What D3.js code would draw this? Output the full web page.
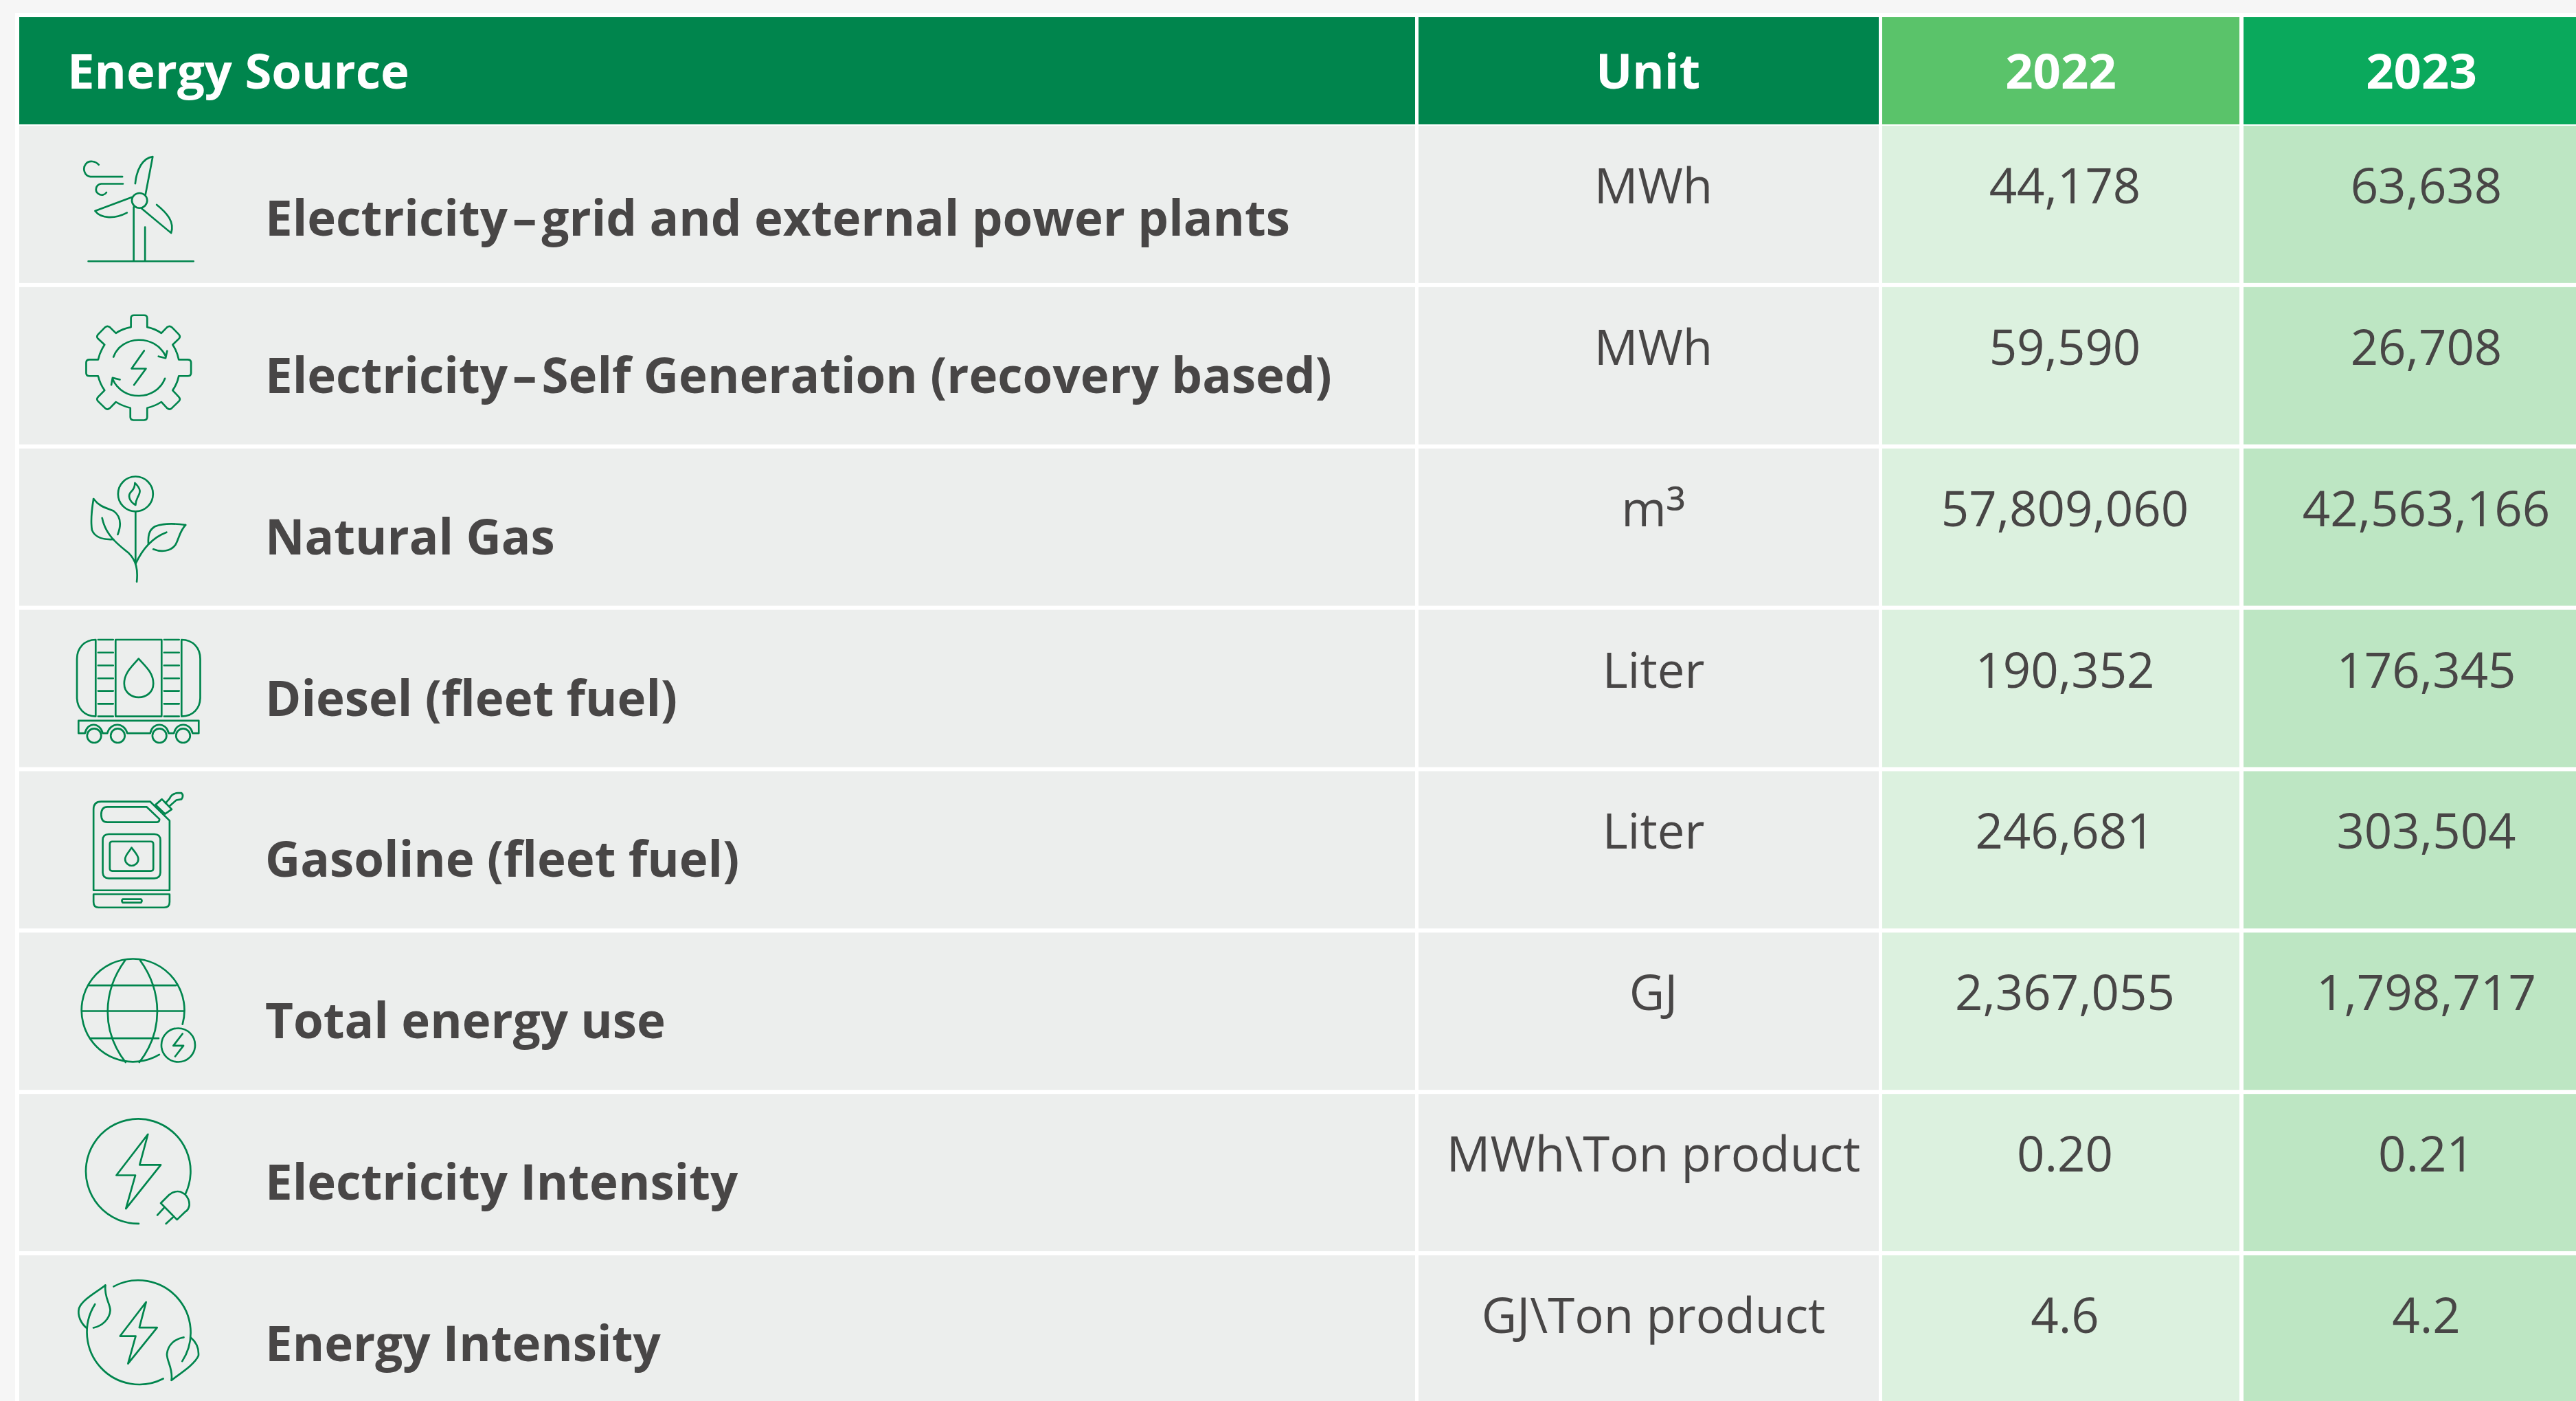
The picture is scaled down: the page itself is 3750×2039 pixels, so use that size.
<!DOCTYPE html>
<html>
<head>
<meta charset="utf-8">
<script src="https://cdnjs.cloudflare.com/ajax/libs/d3/7.8.5/d3.min.js"></script>
<style>
  html, body { margin: 0; padding: 0; background: #f6f6f6; overflow: hidden; }
  text { font-family: "Open Sans", sans-serif; }
  .icon path, .icon circle, .icon rect { fill: none; stroke: #00854d; stroke-linecap: round; stroke-linejoin: round; }
</style>
</head>
<body>
<div id="chart"></div>
<script>
var headers = ["Energy Source", "Unit", "2022", "2023"];
var sources = [
    "Electricity\u200A\u2013\u200Agrid and external power plants",
    "Electricity\u200A\u2013\u200ASelf Generation (recovery based)",
    "Natural Gas",
    "Diesel (fleet fuel)",
    "Gasoline (fleet fuel)",
    "Total energy use",
    "Electricity Intensity",
    "Energy Intensity"
];
var units = ["MWh", "MWh", "m\u00b3", "Liter", "Liter", "GJ", "MWh\\Ton product", "GJ\\Ton product"];
var values2022 = ["44,178", "59,590", "57,809,060", "190,352", "246,681", "2,367,055", "0.20", "4.6"];
var values2023 = ["63,638", "26,708", "42,563,166", "176,345", "303,504", "1,798,717", "0.21", "4.2"];

var width = 3750, height = 2039;
var rowStep = 234.86, rowGap = 6;

var svg = d3.select("#chart").append("svg")
    .attr("width", width)
    .attr("height", height)
    .style("display", "block");

// white frame behind the table
svg.append("rect").attr("x", 22).attr("y", 19).attr("width", width - 22).attr("height", height - 19).attr("fill", "#fff");

// columns are not even, so ordinal scales for edges
var colLeft = d3.scaleOrdinal().domain(headers).range([28, 2065, 2740, 3266]);
var colRight = d3.scaleOrdinal().domain(headers).range([2060, 2735, 3260, 3750]);
var headFill = d3.scaleOrdinal().domain(headers).range(["#00854d", "#00854d", "#5ac36a", "#0aa95c"]);
var bodyFill = d3.scaleOrdinal().domain(headers).range(["#eceeed", "#eceeed", "#dcf1df", "#bde6c3"]);
var headX = d3.scaleOrdinal().domain(headers).range([98, 2399, 3000, 3525]);
var cellX = d3.scaleOrdinal().domain(headers).range([386, 2407, 3006, 3532]);

var y = d3.scaleBand()
    .domain(sources)
    .range([183, 183 + rowStep * sources.length - rowGap])
    .paddingInner(rowGap / rowStep)
    .paddingOuter(0);

// header
svg.selectAll(".head")
    .data(headers)
    .enter().append("rect")
    .attr("class", "head")
    .attr("x", function (d) { return colLeft(d); })
    .attr("y", 25)
    .attr("width", function (d) { return colRight(d) - colLeft(d); })
    .attr("height", 156)
    .attr("fill", function (d) { return headFill(d); });

svg.selectAll(".headText")
    .data(headers)
    .enter().append("text")
    .attr("class", "headText")
    .attr("x", function (d) { return headX(d); })
    .attr("y", 129)
    .attr("text-anchor", function (d, i) { return i == 0 ? "start" : "middle"; })
    .attr("font-size", 70.7)
    .attr("font-weight", 700)
    .attr("fill", "#fff")
    .text(function (d) { return d; });

// body cells
sources.forEach(function (s, i) {
    var g = svg.append("g");
    g.selectAll("rect")
        .data(headers)
        .enter().append("rect")
        .attr("x", function (d) { return colLeft(d); })
        .attr("y", y(s))
        .attr("width", function (d) { return colRight(d) - colLeft(d); })
        .attr("height", y.bandwidth())
        .attr("fill", function (d) { return bodyFill(d); });

    g.append("text")
        .attr("x", cellX(headers[0]))
        .attr("y", y(s) + (i == 0 ? 160 : 154))
        .attr("font-size", 70.8)
        .attr("font-weight", 700)
        .attr("fill", "#484646")
        .text(s);

    var row = [units[i], values2022[i], values2023[i]];
    g.selectAll(".val")
        .data(row)
        .enter().append("text")
        .attr("class", "val")
        .attr("x", function (d, j) { return cellX(headers[j + 1]); })
        .attr("y", y(s) + 113)
        .attr("text-anchor", "middle")
        .attr("font-size", 70.8)
        .attr("fill", "#484646")
        .each(function (d) {
            // the cube sign sits larger and lower in the reference
            var t = d3.select(this), k = d.indexOf("\u00b3");
            if (k < 0) { t.text(d); return; }
            t.append("tspan").text(d.slice(0, k));
            t.append("tspan").attr("font-size", 80).attr("dy", 10).text("\u00b3");
        });
});

// line icons, traced in zoom crop coordinates
var rungs = [649, 691, 733, 774, 816];
var icons = [
    { y0: 0, sx: 2.24, sy: 2.306, paths: [
        "M322 553C312 540 290 537 280 550C268 565 275 590 295 593L399 593",
        "M401 617L330 617C312 620 308 640 320 650C330 658 342 654 347 646",
        "M474 655L498 526C465 530 445 570 441 616",
        "M430 662L310 708C330 735 375 735 414 714",
        "M462 700L558 782C570 745 545 715 511 687",
        "M436 695L436 876M473 762L473 876M288 877L631 877"
    ], circles: [[455, 673, 25]] },
    { y0: 0, sx: 2.24, sy: 2.306, paths: [
        "M427 1098L427 1068Q427 1058 437 1058L470 1058Q480 1058 480 1068L480 1098Q505 1103 526 1118L545 1098Q553 1092 560 1098L583 1122Q590 1130 583 1137L563 1157Q578 1180 583 1207L612 1207Q623 1207 623 1217L623 1252Q623 1262 612 1262L583 1262Q578 1288 563 1310L583 1332Q590 1340 583 1347L560 1370Q553 1377 545 1370L526 1349Q505 1363 480 1369L480 1400Q480 1410 470 1410L435 1410Q425 1410 425 1400L425 1369Q400 1363 378 1349L358 1370Q350 1377 343 1370L320 1347Q313 1340 320 1332L341 1310Q326 1288 320 1262L292 1262Q281 1262 281 1252L281 1217Q281 1207 292 1207L320 1207Q326 1180 341 1157L320 1137Q313 1130 320 1122L343 1098Q350 1092 358 1098L378 1118Q400 1103 427 1098Z",
        "M370 1198C395 1125 505 1120 540 1195M545 1178L540 1202L517 1196",
        "M538 1270C510 1345 400 1350 367 1272M363 1292L367 1268L391 1274",
        "M470 1177L429 1237L476 1237L437 1292"
    ], circles: [] },
    { y0: 660, sx: 2.24, sy: 2.24, paths: [
        "M440 96C465 120 455 130 448 145C443 155 442 162 442 168C420 155 415 135 430 122C438 114 440 105 440 96Z",
        "M442 190L442 360",
        "M305 148C325 175 350 178 370 187C395 205 395 235 384 264",
        "M305 148C298 190 295 220 300 250C310 275 340 282 370 280",
        "M333 210C345 270 390 300 420 325C445 350 450 380 446 418",
        "M605 233C570 228 530 228 505 238C485 250 482 270 484 295",
        "M605 233C585 255 585 275 572 298C555 320 525 322 500 312",
        "M543 257C495 275 465 310 442 360"
    ], circles: [[442, 132, 57]] },
    { y0: 660, sx: 2.24, sy: 2.24, paths: [
        "M312 607C275 607 251 635 251 670L251 795C251 830 275 857 312 857Z",
        "M592 607C630 607 653 635 653 670L653 795C653 830 630 857 592 857Z",
        "M377 607L527 607L527 857L377 857Z",
        "M320 607L369 607M320 857L369 857M535 607L584 607M535 857L584 857",
        rungs.map(function (r) { return "M320 " + r + "L369 " + r + "M535 " + r + "L584 " + r; }).join(""),
        "M452 669C430 695 405 715 405 750C405 780 430 795 452 795C475 795 500 780 500 750C500 715 475 695 452 669Z",
        "M256 871L648 871L648 912L628 912C620 875 575 875 567 912L550 912C542 875 497 875 490 912L415 912C405 875 360 875 350 912L335 912C325 875 285 875 277 912L256 912Z"
    ], circles: [[307, 920, 23], [384, 920, 23], [520, 920, 23], [597, 920, 23]] },
    { y0: 660, sx: 2.24, sy: 2.24, paths: [
        "M490 1135L330 1135Q305 1135 305 1160L305 1424L553 1424L553 1197Z",
        "M305 1437L553 1437L553 1462Q553 1480 535 1480L322 1480Q305 1480 305 1462Z",
        "M400 1453L460 1453Q465 1458 460 1464L400 1464Q395 1458 400 1453Z",
        "M350 1152L478 1152L520 1192Q520 1202 510 1202L350 1202Q330 1202 330 1177Q330 1152 350 1152Z",
        "M355 1241L503 1241Q523 1241 523 1261L523 1365Q523 1385 503 1385L355 1385Q335 1385 335 1365L335 1261Q335 1241 355 1241Z",
        "M366 1265L492 1265Q500 1265 500 1273L500 1353Q500 1361 492 1361L366 1361Q358 1361 358 1353L358 1273Q358 1265 366 1265Z",
        "M429 1285C420 1300 408 1310 408 1322C408 1335 420 1344 429 1344C440 1344 451 1335 451 1322C451 1310 440 1300 429 1285Z",
        "M507 1145L528 1127L560 1160L538 1175Z",
        "M540 1140L553 1125Q560 1108 580 1107L592 1107Q600 1115 592 1127L575 1130L552 1150"
    ], circles: [] },
    { y0: 1340, sx: 2.243, sy: 2.243, paths: [
        "M596 338A168 168 0 1 0 520 437",
        "M408 130C335 230 330 360 410 462M458 130C530 230 535 360 455 462",
        "M292 211L575 211M268 295L600 295M296 384L518 384",
        "M596 369L566 408L599 408L572 443"
    ], circles: [[582, 406, 55]] },
    { y0: 1340, sx: 2.243, sy: 2.243, paths: [
        "M605 893A171 171 0 1 0 453 989",
        "M483 697L380 831L442 831L411 940L525 797L456 797Z",
        "M604 893Q620 910 618 930Q615 945 605 950L578 976L525 922L552 895Q570 880 590 885Z",
        "M535 938L514 961M565 968L542 989"
    ], circles: [] },
    { y0: 1340, sx: 2.243, sy: 2.243, paths: [
        "M371 1194A171 171 0 0 1 595 1438",
        "M533 1495A171 171 0 0 1 310 1252",
        "M344 1190C320 1210 270 1235 258 1265C252 1290 265 1315 283 1330",
        "M344 1190C340 1230 360 1250 360 1272C358 1300 335 1322 305 1329",
        "M560 1500C585 1480 635 1450 648 1420C650 1395 640 1375 622 1360",
        "M560 1500C565 1460 545 1440 545 1415C548 1385 570 1365 600 1360",
        "M477 1245L392 1356L443 1356L418 1446L513 1328L455 1328Z"
    ], circles: [] }
];

icons.forEach(function (ic) {
    var g = svg.append("g")
        .attr("class", "icon")
        .attr("transform", "translate(0," + ic.y0 + ") scale(" + (1 / ic.sx) + "," + (1 / ic.sy) + ")")
        .attr("stroke-width", 6);
    g.selectAll("path").data(ic.paths).enter().append("path").attr("d", function (d) { return d; });
    g.selectAll("circle").data(ic.circles).enter().append("circle")
        .attr("cx", function (d) { return d[0]; })
        .attr("cy", function (d) { return d[1]; })
        .attr("r", function (d) { return d[2]; });
});
</script>
</body>
</html>
